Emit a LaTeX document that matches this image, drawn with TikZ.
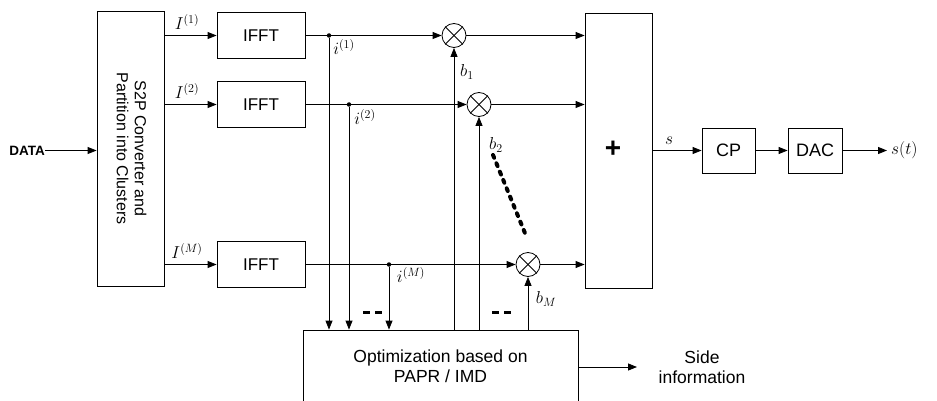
\documentclass[tikz,border=0pt]{standalone}
\usepackage{fontspec}
\setmainfont{Liberation Sans}
\usetikzlibrary{arrows.meta}
\tikzset{
  blk/.style={draw, line width=0.8pt, inner sep=0pt, font=\fontsize{17}{20}\selectfont},
  arr/.style={line width=0.8pt, -{Triangle[length=9pt,width=7pt]}},
  ln/.style={line width=0.8pt},
  mult/.style={draw, circle, line width=0.8pt, minimum size=24pt, inner sep=0pt},
  lbl/.style={font=\fontsize{17}{20}\selectfont, inner sep=0pt},
  txt/.style={font=\fontsize{17.5}{20}\selectfont, align=center, inner sep=0pt},
  dotn/.style={circle, fill, inner sep=0pt, minimum size=4.5pt},
  bigdash/.style={line width=4pt, line cap=round, dash pattern=on 3pt off 6pt},
  smalldash/.style={line width=3pt, dash pattern=on 7pt off 5pt},
}
\begin{document}
\begin{tikzpicture}[x=1pt, y=-1pt]
\clip (0,0) rectangle (937,401);
% S2P
\node[blk, minimum width=67pt, minimum height=275pt] (s2p) at (130.5,148.5) {};
\node[txt, font=\fontsize{16}{18}\selectfont, rotate=-90] (s2ptxt) at (131.5,148.5) {S2P Converter and\\Partition into Clusters};
\node[font=\bfseries\fontsize{13.5}{15}\selectfont, anchor=east, inner sep=0pt] (data) at (45,150.5) {DATA};
\draw[arr] (data.east) -- (data.east -| s2p.west);
% IFFT blocks
\node[blk, minimum width=88pt, minimum height=46pt] (f1) at (261,35.5) {IFFT};
\node[blk, minimum width=88pt, minimum height=46pt] (f2) at (261,104.5) {IFFT};
\node[blk, minimum width=88pt, minimum height=46pt] (f3) at (261,264.5) {IFFT};
\draw[arr] (f1.west -| s2p.east) -- (f1.west);
\draw[arr] (f2.west -| s2p.east) -- (f2.west);
\draw[arr] (f3.west -| s2p.east) -- (f3.west);
\node[lbl] (I1) at (187,22) {$I^{(1)}$};
\node[lbl] (I2) at (187,91) {$I^{(2)}$};
\node[lbl] (IM) at (187,251) {$I^{(M)}$};
% multipliers
\node[mult] (m1) at (454,35.5) {};
\node[mult] (m2) at (479,104.5) {};
\node[mult] (m3) at (528,264.5) {};
\foreach \m in {m1,m2,m3}{
  \draw[ln] (\m.north east) -- (\m.south west);
  \draw[ln] (\m.north west) -- (\m.south east);
}
% sum block
\node[blk, minimum width=67pt, minimum height=275pt] (sum) at (618.5,150.5) {};
\node[font=\bfseries\fontsize{28}{30}\selectfont, inner sep=0pt] (plus) at (613,149) {+};
% taps
\node[dotn] (d1) at (329,35.5) {};
\node[dotn] (d2) at (349,104.5) {};
\node[dotn] (d3) at (389,264.5) {};
\draw[ln] (f1.east) -- (d1);
\draw[arr] (d1) -- (m1.west);
\draw[ln] (f2.east) -- (d2);
\draw[arr] (d2) -- (m2.west);
\draw[ln] (f3.east) -- (d3);
\draw[arr] (d3) -- (m3.west);
\draw[arr] (m1.east) -- (m1.east -| sum.west);
\draw[arr] (m2.east) -- (m2.east -| sum.west);
\draw[arr] (m3.east) -- (m3.east -| sum.west);
\node[lbl] (i1) at (344,47) {$i^{(1)}$};
\node[lbl] (i2) at (365,117) {$i^{(2)}$};
\node[lbl] (iM) at (411,275) {$i^{(M)}$};
% optimization block
\node[blk, minimum width=275pt, minimum height=90pt] (opt) at (440.5,375) {};
\node[txt] (opttxt) at (440.5,366) {Optimization based on\\PAPR / IMD};
\draw[arr] (d1) -- (d1 |- opt.north);
\draw[arr] (d2) -- (d2 |- opt.north);
\draw[arr] (d3) -- (d3 |- opt.north);
\draw[arr] (m1.south |- opt.north) -- (m1.south);
\draw[arr] (m2.south |- opt.north) -- (m2.south);
\draw[arr] (m3.south |- opt.north) -- (m3.south);
\node[lbl] (b1) at (467,72) {$b_1$};
\node[lbl] (b2) at (496,145) {$b_2$};
\node[lbl] (bM) at (546,299) {$b_M$};
\coordinate (dd1) at (493,155);
\coordinate (dd2) at (527,238);
\draw[bigdash] (dd1) -- (dd2);
\coordinate (e1) at (363,312);
\coordinate (e2) at (382,312);
\coordinate (e3) at (492,312);
\coordinate (e4) at (511,312);
\draw[smalldash] (e1) -- (e2);
\draw[smalldash] (e3) -- (e4);
% side info
\node[txt] (side) at (702,367) {Side\\information};
\draw[arr] (opt.east |- side) -- (637,367);
% output chain
\node[blk, minimum width=53pt, minimum height=45pt, font=\fontsize{18}{20}\selectfont] (cp) at (728.5,150.5) {CP};
\node[blk, minimum width=54pt, minimum height=45pt, font=\fontsize{18}{20}\selectfont] (dac) at (815,150.5) {DAC};
\draw[arr] (cp.west -| sum.east) -- (cp.west);
\node[lbl] (s) at (669,141) {$s$};
\draw[arr] (cp.east) -- (dac.west);
\node[lbl, font=\fontsize{19}{22}\selectfont, anchor=west] (st) at (891,150) {$s(t)$};
\coordinate (stend) at (887,150.5);
\draw[arr] (dac.east) -- (stend);
\end{tikzpicture}
\end{document}
